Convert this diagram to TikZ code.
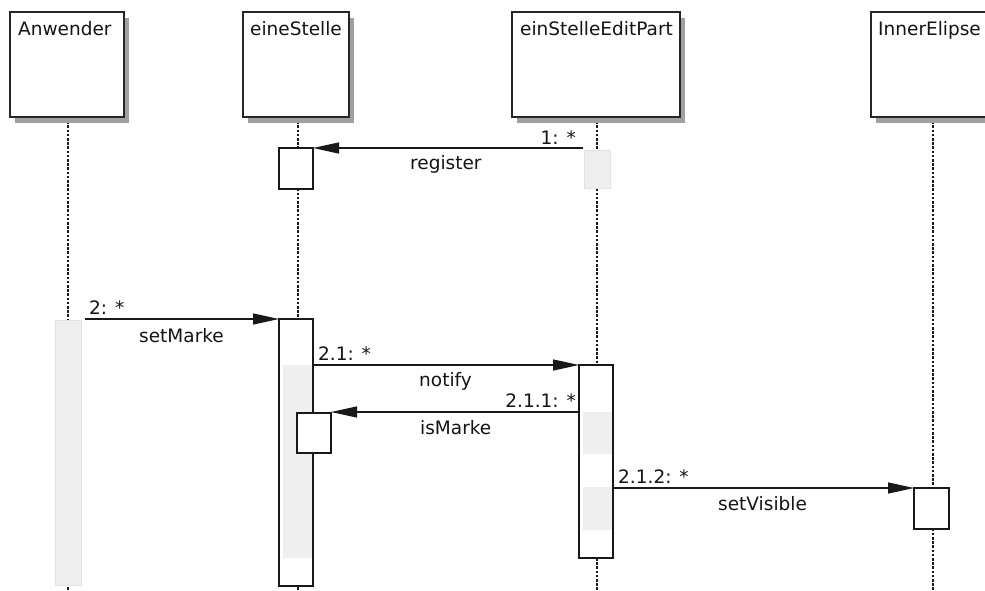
\documentclass[tikz,border=0pt]{standalone}
\usepackage{fontspec}
\setmainfont{DejaVu Sans}
\usetikzlibrary{arrows.meta}
\definecolor{txt}{HTML}{141414}
\definecolor{shade}{HTML}{A0A0A0}
\definecolor{lite}{HTML}{EFEFEF}
\definecolor{liteb}{HTML}{E2E2E2}
\begin{document}
\begin{tikzpicture}[x=1pt,y=-1pt,
  headbox/.style={draw=black!85, line width=1.4pt, fill=white},
  shadowbox/.style={fill=shade, draw=none},
  lifeline/.style={draw=black!90, line width=1.2pt, dash pattern=on 2.6pt off 1.6pt},
  actbox/.style={draw=black!90, line width=1.1pt, fill=white},
  greybox/.style={draw=liteb, line width=0.8pt, fill=lite},
  greyfill/.style={fill=lite, draw=none},
  msg/.style={draw=black!90, line width=1.3pt, -{Triangle[length=26pt,width=11pt]}},
  hlabel/.style={anchor=base west, inner sep=0pt, text=txt, font=\fontsize{18.5}{22}\selectfont},
  mlabel/.style={anchor=base west, inner sep=0pt, text=txt, font=\fontsize{18.5}{22}\selectfont},
]
\useasboundingbox (0,0) rectangle (985,590);
\clip (0,0) rectangle (985,590);
\fill[white] (0,0) rectangle (985,590);

% lifelines
\coordinate (l1t) at (68,117);  \coordinate (l1b) at (68,590);
\coordinate (l2t) at (298,117); \coordinate (l2b) at (298,590);
\coordinate (l3t) at (597,117); \coordinate (l3b) at (597,590);
\coordinate (l4t) at (933,117); \coordinate (l4b) at (933,590);
\draw[lifeline] (l1t) -- (l1b);
\draw[lifeline] (l2t) -- (l2b);
\draw[lifeline] (l3t) -- (l3b);
\draw[lifeline] (l4t) -- (l4b);

% header boxes with shadows
\fill[shadowbox] (15,18) rectangle (129,123);
\draw[headbox] (10,12) rectangle (124,117);
\node[hlabel] (hA) at (18,35) {Anwender};

\fill[shadowbox] (248,18) rectangle (354,123);
\draw[headbox] (243,12) rectangle (349,117);
\node[hlabel] (hB) at (250,35) {eineStelle};

\fill[shadowbox] (517,18) rectangle (685,123);
\draw[headbox] (512,12) rectangle (680,117);
\node[hlabel] (hC) at (520,35) {einStelleEditPart};

\fill[shadowbox] (876,18) rectangle (1005,123);
\draw[headbox] (871,12) rectangle (1000,117);
\node[hlabel] (hD) at (878,35) {InnerElipse};

% activation boxes
\draw[actbox] (279,148) rectangle (313,189);
\draw[greybox] (584,150) rectangle (610,188);
\draw[greybox] (55,320) rectangle (81,585);

\fill[white] (279,319) rectangle (313,586);
\fill[greyfill] (283,365) rectangle (313,558);
\draw[actbox, fill=none] (279,319) rectangle (313,586);
\draw[actbox] (297,413) rectangle (331,453);

\fill[white] (579,365) rectangle (613,558);
\fill[greyfill] (583,412) rectangle (613,454);
\fill[greyfill] (583,487) rectangle (613,530);
\draw[actbox, fill=none] (579,365) rectangle (613,558);

\draw[actbox] (914,488) rectangle (949,529);

% message endpoints
\coordinate (m1s) at (583,148); \coordinate (m1e) at (313,148);
\coordinate (m2s) at (85,319);  \coordinate (m2e) at (279,319);
\coordinate (m3s) at (313,365); \coordinate (m3e) at (579,365);
\coordinate (m4s) at (579,412); \coordinate (m4e) at (331,412);
\coordinate (m5s) at (613,488); \coordinate (m5e) at (914,488);

\draw[msg] (m1s) -- (m1e);
\draw[msg] (m2s) -- (m2e);
\draw[msg] (m3s) -- (m3e);
\draw[msg] (m4s) -- (m4e);
\draw[msg] (m5s) -- (m5e);

% labels
\node[mlabel, anchor=base east] (n1) at (576,144) {1: *};
\node[mlabel] (t1) at (410,169) {register};
\node[mlabel] (n2) at (89,314) {2: *};
\node[mlabel] (t2) at (139,342) {setMarke};
\node[mlabel] (n3) at (318,360) {2.1: *};
\node[mlabel] (t3) at (419,386) {notify};
\node[mlabel, anchor=base east] (n4) at (576,407) {2.1.1: *};
\node[mlabel] (t4) at (420,434) {isMarke};
\node[mlabel] (n5) at (618,483) {2.1.2: *};
\node[mlabel] (t5) at (718,510) {setVisible};
\end{tikzpicture}
\end{document}
